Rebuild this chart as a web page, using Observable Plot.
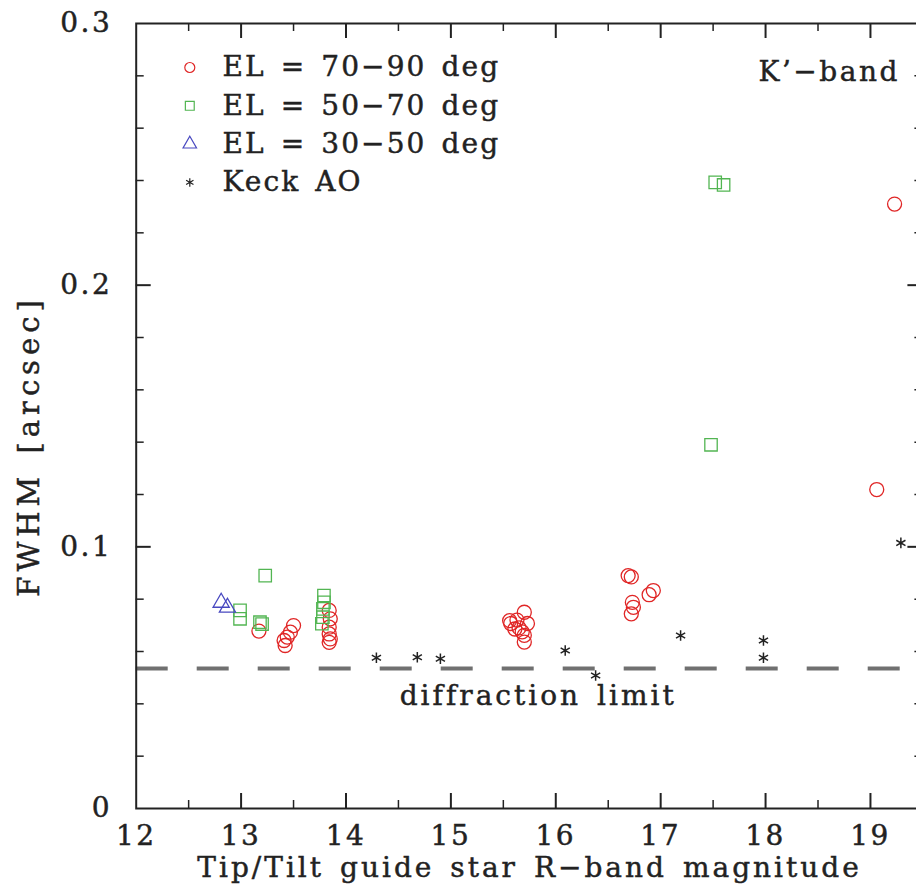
<!DOCTYPE html>
<html><head><meta charset="utf-8">
<script src="https://cdn.jsdelivr.net/npm/d3@7"></script>
<script src="https://cdn.jsdelivr.net/npm/@observablehq/plot@0.6"></script>
<style>
html,body{margin:0;padding:0;background:#fff;overflow:hidden;}
#chart svg{max-width:none !important;width:924px !important;height:896px !important;}
#chart svg text{letter-spacing:2.5px;word-spacing:4px;stroke:#222;stroke-width:0.45px;paint-order:stroke;}
#chart svg g.legendtext text{letter-spacing:2.1px;}
#chart svg g.difftext text{letter-spacing:3px;}
#chart svg g.xtitle text{letter-spacing:3px;}
#chart svg g.ytitle text{letter-spacing:5px;}
</style></head><body><div id="chart"></div>
<script>
// [magnitude, FWHM arcsec]
const el70_90 = [
  [13.17,0.0678],
  [13.41,0.0642],[13.44,0.0655],[13.50,0.0699],[13.42,0.0623],[13.47,0.0674],
  [13.84,0.0757],[13.85,0.0725],[13.84,0.0693],[13.84,0.0667],[13.85,0.0648],[13.84,0.0635],
  [15.57,0.0707],[15.63,0.0720],[15.70,0.0750],[15.73,0.0707],[15.70,0.0662],[15.70,0.0636],
  [15.61,0.0686],[15.56,0.0718],[15.65,0.0690],[15.68,0.0675],
  [16.69,0.0890],[16.72,0.0885],[16.73,0.0788],[16.74,0.0769],[16.72,0.0744],[16.93,0.0833],[16.89,0.0817],
  [19.06,0.1219],[19.23,0.2310]
];
const el50_70 = [
  [12.99,0.0757],[12.99,0.0725],[13.23,0.0890],[13.18,0.0712],[13.20,0.0705],
  [13.79,0.0814],[13.79,0.0788],[13.78,0.0763],[13.78,0.0731],[13.77,0.0706],
  [17.48,0.1390],[17.52,0.2393],[17.60,0.2383]
];
const el30_50 = [[12.81,0.0787],[12.87,0.0768]];
const keckAO = [
  [14.29,0.0576],[14.68,0.0578],[14.90,0.0572],[16.09,0.0604],[16.38,0.0508],
  [17.19,0.0661],[17.98,0.0642],[17.98,0.0576],[19.29,0.1015]
];
const diffractionLimit = 0.0535;

const legendLabels = ["EL = 70\u221290 deg","EL = 50\u221270 deg","EL = 30\u221250 deg","Keck AO"];
const legendSymbols = ["circle","square","triangle","asterisk"];
const colors = ["#e02626","#52b552","#4848c0","#222222"];
const symbolR = [7, 7, 6];

const xMajor = [12,13,14,15,16,17,18,19];
const xMinor = [12.5,13.5,14.5,15.5,16.5,17.5,18.5];
const yMajor = [0,0.1,0.2,0.3];
const yMinor = [0.02,0.04,0.06,0.08,0.12,0.14,0.16,0.18,0.22,0.24,0.26,0.28];

const W = 924, H = 896, mL = 135.7, mR = 1.6, mT = 23, mB = 88;
const innerH = H - mT - mB, innerW = W - mL - mR;
const ink = "#222";
const FS = 28;

const seriesMarks = [el70_90, el50_70, el30_50].map((s, i) =>
  Plot.dot(s, {x: d => d[0], y: d => d[1], symbol: legendSymbols[i], r: symbolR[i],
    stroke: colors[i], strokeWidth: 1.3, fill: "none"}));

const legendMarks = legendLabels.flatMap((lab, i) => [
  Plot.dot([lab], {frameAnchor: "top-left", dx: 53.6, dy: 44 + i * 38.3,
    symbol: legendSymbols[i], r: i === 3 ? 4 : 5, stroke: colors[i], strokeWidth: 1.2, fill: "none"}),
  Plot.text([lab], {frameAnchor: "top-left", dx: 86.3, dy: 44 + i * 38.3, text: d => d,
    textAnchor: "start", lineAnchor: "middle", fontSize: FS, fill: ink})
]);

const tickMarks = [
  Plot.tickX(xMajor.slice(1), {x: d => d, insetTop: innerH - 15, stroke: ink, strokeWidth: 2}),
  Plot.tickX(xMajor.slice(1), {x: d => d, insetBottom: innerH - 15, stroke: ink, strokeWidth: 2}),
  Plot.tickX(xMinor, {x: d => d, insetTop: innerH - 8, stroke: ink, strokeWidth: 1.5}),
  Plot.tickX(xMinor, {x: d => d, insetBottom: innerH - 8, stroke: ink, strokeWidth: 1.5}),
  Plot.tickY(yMajor.slice(1, 3), {y: d => d, insetRight: innerW - 15, stroke: ink, strokeWidth: 2}),
  Plot.tickY(yMajor.slice(1, 3), {y: d => d, insetLeft: innerW - 15, stroke: ink, strokeWidth: 2}),
  Plot.tickY(yMinor, {y: d => d, insetRight: innerW - 8, stroke: ink, strokeWidth: 1.5}),
  Plot.tickY(yMinor, {y: d => d, insetLeft: innerW - 8, stroke: ink, strokeWidth: 1.5})
];

const chart = Plot.plot({
  width: W, height: H,
  marginLeft: mL, marginRight: mR, marginTop: mT, marginBottom: mB,
  style: {fontFamily: "DejaVu Serif", fontSize: FS + "px", background: "#fff", color: ink, maxWidth: "none"},
  x: {domain: [12, 19.5], axis: null},
  y: {domain: [0, 0.3], axis: null},
  marks: [
    Plot.ruleY([diffractionLimit], {stroke: "#707070", strokeWidth: 4, strokeDasharray: "32,29"}),
    ...tickMarks,
    Plot.axisX({ticks: xMajor, tickSize: 0, tickPadding: 17, fontSize: FS, tickFormat: d => String(d)}),
    Plot.axisY({ticks: yMajor, tickSize: 0, tickPadding: 24, fontSize: FS,
      tickFormat: d => d === 0 ? "0" : d3.format(".1f")(d)}),
    Plot.frame({stroke: ink, strokeWidth: 2}),
    ...seriesMarks,
    Plot.dot(keckAO, {x: d => d[0], y: d => d[1], symbol: "asterisk", r: 5, stroke: ink, strokeWidth: 1.5}),
    ...legendMarks,
    Plot.text(["K\u2019\u2212band"], {frameAnchor: "top-right", dx: -23, dy: 49, text: d => d,
      textAnchor: "end", lineAnchor: "middle", fontSize: FS, fill: ink}),
    Plot.text(["diffraction limit"], {frameAnchor: "left", y: () => diffractionLimit, dx: 402, dy: 28,
      text: d => d, textAnchor: "middle", lineAnchor: "middle", fontSize: FS, fill: ink}),
    Plot.text(["Tip/Tilt guide star R\u2212band magnitude"], {frameAnchor: "bottom", dy: 60, text: d => d,
      textAnchor: "middle", lineAnchor: "middle", fontSize: FS, fill: ink}),
    Plot.text(["FWHM [arcsec]"], {frameAnchor: "left", dx: -106, dy: 30, rotate: -90, text: d => d,
      textAnchor: "middle", lineAnchor: "middle", fontSize: 29, fill: ink})
  ]
});
document.getElementById("chart").appendChild(chart);
// tag text groups for letter-spacing styles
chart.querySelectorAll("g[aria-label='text']").forEach(g => {
  const t = g.textContent;
  if (t.startsWith("Tip/Tilt")) g.classList.add("xtitle");
  else if (t.startsWith("FWHM")) g.classList.add("ytitle");
  else if (t.startsWith("diffraction")) g.classList.add("difftext");
  else if (legendLabels.includes(t)) g.classList.add("legendtext");
});
</script></body></html>
